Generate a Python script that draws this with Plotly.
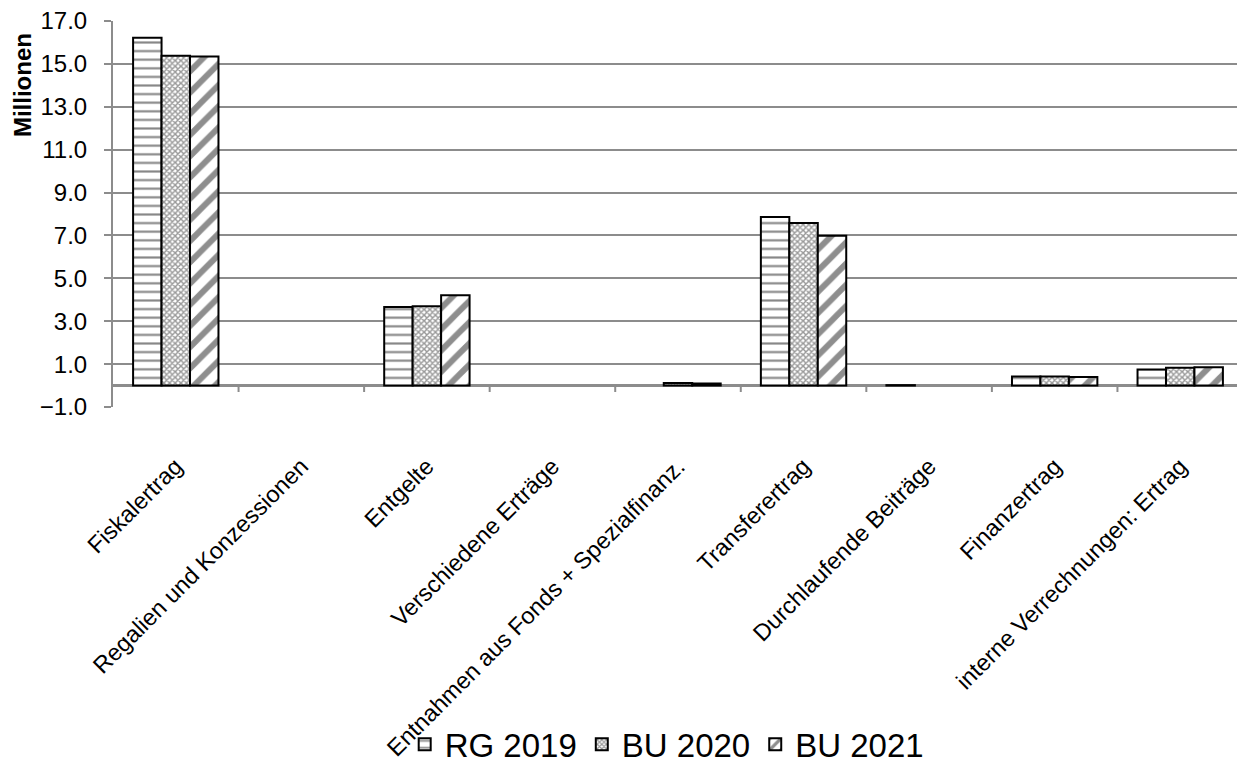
import plotly.graph_objects as go

categories = [
    "Fiskalertrag",
    "Regalien und Konzessionen",
    "Entgelte",
    "Verschiedene Erträge",
    "Entnahmen aus Fonds + Spezialfinanz.",
    "Transferertrag",
    "Durchlaufende Beiträge",
    "Finanzertrag",
    "interne Verrechnungen: Ertrag",
]
# None = no value shown for that year
rg_2019 = [16.22, None, 3.66, None, None, 7.86, 0.02, 0.42, 0.75]
bu_2020 = [15.38, None, 3.70, None, 0.12, 7.58, None, 0.42, 0.83]
bu_2021 = [15.34, None, 4.21, None, 0.10, 6.99, None, 0.40, 0.85]

series = [
    ("RG 2019", rg_2019, dict(shape="-", size=8.6, solidity=0.25, fgcolor="#111111")),
    ("BU 2020", bu_2020, dict(shape="x", size=4, solidity=0.6, fgcolor="#333333")),
    ("BU 2021", bu_2021, dict(shape="/", size=15, solidity=0.4, fgcolor="#1e1e1e")),
]

FONT = "Liberation Sans, Arial, sans-serif"
GRID = "#8c8c8c"

fig = go.Figure()
for name, vals, pat in series:
    fig.add_trace(go.Bar(
        x=categories, y=vals, name=name,
        marker=dict(color="white", pattern=pat, line=dict(color="black", width=2)),
    ))

# small tick marks on the zero line at the category boundaries
for i in range(len(categories)):
    fig.add_shape(type="line", xref="x", yref="y",
                  x0=i + 0.5, x1=i + 0.5, y0=0, y1=-0.3,
                  line=dict(color=GRID, width=2))

fig.add_annotation(
    text="<b>Millionen</b>", textangle=-90, showarrow=False,
    xref="paper", yref="paper", x=-0.080, y=0.833,
    xanchor="center", yanchor="middle", font=dict(size=24), borderpad=0,
)

# page body adds an 8px offset, so margins are shifted to compensate
fig.update_layout(
    width=1245, height=775,
    barmode="group", bargap=0.32, bargroupgap=0,
    plot_bgcolor="white", paper_bgcolor="white",
    font=dict(family=FONT, color="black"),
    margin=dict(l=105, r=10, t=13, b=373),
    legend=dict(orientation="h", x=0.49, xanchor="center", y=-0.874, yanchor="middle",
                font=dict(size=33), itemwidth=30, tracegroupgap=0,
                bgcolor="rgba(0,0,0,0)"),
)
fig.update_yaxes(
    range=[-1, 17], dtick=2, tick0=-1, tickformat=".1f",
    showgrid=True, gridcolor=GRID, gridwidth=2,
    zeroline=True, zerolinecolor=GRID, zerolinewidth=2.5,
    showline=True, linecolor=GRID, linewidth=2,
    ticks="outside", ticklen=7, tickcolor=GRID, tickwidth=2,
    tickfont=dict(size=24), ticklabelstandoff=12, ticklabeloverflow="allow",
    automargin=False,
)
fig.update_xaxes(
    tickangle=-45, tickfont=dict(size=23.5), showline=False, ticks="",
    ticklabelstandoff=40,
    range=[-0.5, 8.5], automargin=False,
)

fig.write_html("out.html")
